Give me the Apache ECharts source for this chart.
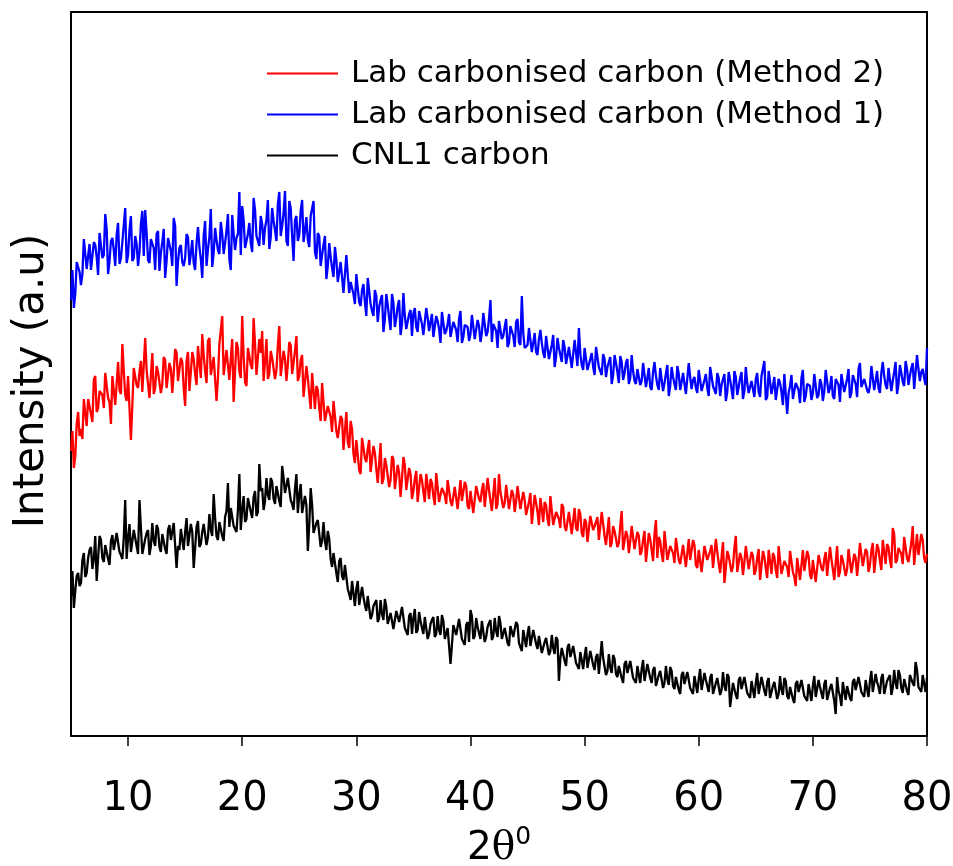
<!DOCTYPE html>
<html>
<head>
<meta charset="utf-8">
<script src="https://cdn.jsdelivr.net/npm/echarts@6/dist/echarts.min.js"></script>
<style>
html,body{margin:0;padding:0;background:#fff;}
#chart{width:953px;height:866px;}
</style>
</head>
<body>
<div id="chart"></div>
<script>
// 2θ sampling of the traces (degrees): main readings at 5, 5.25, ... ; in-between readings at 5.125, 5.375, ...
const angleStart = 5;
const angleStep = 0.25;
const xTicks = [10, 20, 30, 40, 50, 60, 70, 80];

const seriesNames = ['Lab carbonised carbon (Method 2)', 'Lab carbonised carbon (Method 1)', 'CNL1 carbon'];

// Intensity (a.u., offsets as plotted)
const method1 = [
436,428,474,464, 462,482,480,466, 494,479,503,478, 522,462,495,486, 501,472,494,528,
481,520,478,492, 484,525,526,476, 497,488,502,465, 494,458,498,485, 518,450,488,474,
478,499,482,473, 493,489,458,515, 487,527,483,496, 482,502,493,522, 466,502,498,544,
530,488,502,493, 538,500,490,512, 508,536,499,515, 495,544,510,545, 490,528,475,520,
501,536,505,496, 520,535,477,500, 481,500,470,479, 459,476,464,474, 442,461,454,442,
462,434,446,434, 458,432,420,440, 429,441,417,431, 406,433,418,436, 412,420,405,426,
423,409,425,412, 403,418,414,399, 420,407,424,402, 412,399,414,406, 417,393,411,409,
402,420,399,410, 403,424,404,436, 412,405,415,397, 409,389,410,400, 414,394,440,388,
391,407,393,384, 397,393,378,398, 384,401,379,388, 374,389,380,391, 366,383,408,371,
388,366,377,369, 389,369,361,377, 369,379,361,373, 353,374,363,377, 358,365,352,369,
355,371,358,349, 364,360,346,366, 353,371,350,359, 346,362,354,365, 341,359,356,348,
366,345,356,348, 369,350,342,358, 351,362,344,356, 337,359,349,364, 345,353,341,357,
357,344,360,375, 339,354,350,336, 357,344,362,322, 350,337,353,346, 358,334,352,350,
343,361,341,352, 345,366,348,340, 357,351,362,344, 357,338,361,352, 367,349,357,346,
350,368,355,348, 363,360,347,368, 355,374,352,363, 350,367,360,373, 348,367,364,358,
388
];
const method1Mid = [
466,442,474,451, 497,467,492,464, 491,461,502,481, 507,475,498,470, 513,478,494,473,
506,475,500,470, 512,480,503,473, 496,466,505,483, 507,475,498,470, 510,475,491,470,
502,471,496,466, 509,477,500,470, 499,469,508,486, 514,482,505,477, 521,486,502,481,
516,486,513,484, 526,495,520,491, 516,487,528,506, 532,500,523,495, 535,500,516,495,
525,494,519,489, 519,484,503,470, 491,457,493,468, 489,454,474,443, 481,443,456,432,
463,430,452,420, 459,425,446,414, 436,404,442,418, 442,409,430,401, 443,407,422,400,
428,404,423,401, 428,405,422,399, 415,393,422,405, 422,398,415,394, 425,399,411,395,
421,397,416,394, 423,400,417,394, 410,388,417,400, 417,393,410,389, 417,391,403,387,
408,384,403,381, 406,383,400,377, 391,369,398,381, 396,372,389,368, 396,370,382,366,
388,364,383,361, 388,365,382,359, 374,352,381,364, 380,356,373,352, 381,355,367,351,
373,349,368,346, 374,351,368,345, 362,340,369,352, 370,346,363,342, 373,347,359,343,
367,343,362,340, 369,346,363,340, 357,335,364,347, 365,341,358,337, 369,343,355,339,
363,339,358,336, 365,342,359,336, 353,331,360,343, 361,337,354,333, 366,340,352,336,
362,338,357,335, 366,343,360,337, 356,334,363,346, 367,343,360,339, 373,347,359,343,
370,346,365,343, 374,351,368,345, 364,342,371,354, 375,351,368,347, 381,355,367,351
];

const method2 = [
285,268,312,300, 297,323,337,322, 356,324,345,341, 363,338,312,360, 352,346,392,341,
360,296,368,351, 364,344,398,352, 360,342,370,365, 352,376,348,367, 363,383,356,374,
330,384,364,377, 351,374,402,365, 395,361,379,335, 392,420,361,386, 377,334,394,364,
420,354,388,371, 418,361,397,405, 375,357,385,380, 366,410,360,377, 372,391,362,400,
360,381,354,358, 327,345,350,328, 353,315,330,319, 335,305,296,317, 305,294,315,282,
296,266,298,278, 287,264,290,267, 272,252,278,271, 256,277,247,263, 257,271,246,262,
245,265,248,256, 234,250,257,240, 263,234,248,241, 256,235,229,249, 241,235,254,230,
245,223,250,237, 246,229,258,235, 242,227,262,244, 233,251,227,241, 235,249,226,236,
223,243,226,233, 211,227,234,217, 240,211,224,217, 232,210,204,223, 215,208,227,203,
217,194,220,206, 214,196,224,200, 205,189,210,205, 193,225,186,200, 195,209,187,200,
185,205,188,197, 175,216,199,182, 205,176,190,183, 198,176,171,190, 183,176,196,171,
186,164,190,176, 185,168,197,173, 179,153,185,181, 170,200,164,178, 174,189,166,180,
166,187,170,179, 158,175,183,166, 190,162,175,169, 185,164,150,178, 171,165,185,161,
176,154,181,168, 177,160,189,167, 173,159,181,178, 167,186,163,178, 175,191,170,184,
171,193,177,187, 166,184,192,176, 208,173,188,182, 199,178,173,210, 187,181,202,178,
182
];
const method2Mid = [
305,280,324,307, 337,310,337,314, 360,328,346,328, 364,334,360,331, 374,342,365,335,
361,331,370,348, 375,343,366,338, 383,348,364,343, 379,348,373,343, 387,355,378,348,
375,345,384,362, 390,358,381,353, 398,363,379,358, 392,361,386,356, 397,365,388,358,
380,350,389,367, 392,360,383,355, 397,362,378,357, 391,360,385,355, 394,362,385,355,
376,339,370,342, 363,327,346,315, 353,315,328,304, 333,298,320,286, 324,288,307,273,
295,262,298,274, 296,262,283,253, 293,257,271,249, 280,247,271,239, 279,246,268,237,
257,234,262,244, 262,237,253,231, 262,236,248,232, 254,230,249,227, 256,233,250,227,
244,222,251,234, 253,229,246,225, 258,232,244,228, 251,227,246,224, 250,227,244,221,
234,212,241,224, 238,214,231,210, 238,212,224,208, 229,205,224,202, 228,205,222,199,
214,192,221,204, 219,195,212,191, 219,193,205,189, 210,186,205,183, 210,187,204,181,
196,174,203,186, 202,178,195,174, 203,177,189,173, 196,172,191,169, 197,174,191,168,
184,162,191,174, 191,167,184,163, 194,168,180,164, 188,164,183,161, 190,167,184,161,
178,156,185,168, 186,162,179,158, 189,163,175,159, 183,159,178,156, 186,163,180,157,
175,153,182,165, 184,160,177,156, 190,164,176,160, 187,163,182,160, 193,170,187,164,
185,163,192,175, 196,172,189,168, 202,176,188,172, 198,174,193,171, 202,179,196,173
];

const cnl1 = [
140,128,160,150, 176,159,178,189, 177,155,200,178, 191,177,195,186, 203,184,177,236,
198,184,206,190, 236,182,197,206, 190,195,211,189, 202,187,206,196, 213,168,186,208,
204,190,212,168, 209,189,204,214, 199,206,242,200, 214,200,219,253, 228,210,204,262,
226,214,238,224, 239,220,272,248, 235,241,258,237, 250,235,270,243, 258,236,226,262,
241,223,240,185, 248,203,213,216, 195,195,205,177, 183,163,175,160, 171,147,136,155,
147,131,149,131, 140,117,130,136, 118,122,137,112, 123,107,125,114, 129,108,101,123,
118,103,124,108, 119,97,112,119, 102,106,121,97, 108,72,111,101, 117,97,91,114,
126,97,118,103, 115,94,109,116, 100,105,120,97, 108,93,110,99, 114,93,85,108,
102,90,106,92, 100,83,94,99, 85,88,99,55, 88,75,88,79, 90,73,67,84,
80,68,85,71, 79,62,95,79, 65,68,81,62, 70,58,72,63, 75,58,53,70,
67,55,72,58, 66,50,61,67, 53,57,69,50, 59,46,61,52, 64,48,42,60,
57,46,63,50, 58,42,53,59, 46,50,62,29, 53,41,56,47, 59,43,38,56,
53,42,59,45, 54,38,50,55, 42,46,58,40, 49,37,52,44, 56,40,35,53,
50,39,56,43, 52,36,48,54, 22,45,30,52, 50,38,54,46, 59,44,39,58,
55,44,62,49, 58,42,55,61, 48,53,66,48, 57,45,61,53, 74,49,44,63,
58
];
const cnl1Mid = [
165,145,163,153, 183,163,186,167, 200,178,196,174, 193,171,201,185, 205,181,198,177,
212,186,198,182, 208,184,203,181, 213,190,207,184, 204,182,211,194, 214,190,207,186,
218,192,204,188, 215,192,212,191, 222,200,218,196, 216,195,225,209, 230,208,226,206,
240,217,231,218, 245,224,245,226, 258,236,254,232, 251,229,258,241, 258,232,247,223,
252,222,231,211, 231,202,216,189, 214,186,197,169, 181,154,178,156, 170,142,155,130,
155,133,139,125, 141,121,133,114, 136,116,129,110, 123,105,126,112, 127,107,120,102,
127,106,115,102, 120,102,116,99, 120,101,115,97, 108,91,113,100, 116,97,111,94,
120,100,109,97, 117,99,113,96, 118,99,113,95, 107,90,112,99, 111,92,106,89,
110,90,99,87, 102,84,98,81, 101,82,96,78, 87,70,92,79, 89,70,84,67,
89,69,78,66, 82,64,78,61, 82,63,77,59, 70,53,75,62, 75,56,70,53,
76,56,65,53, 69,51,65,48, 70,51,65,47, 59,42,64,51, 65,46,60,43,
67,47,56,44, 62,44,58,41, 64,45,59,41, 54,37,59,46, 60,41,55,38,
63,43,52,40, 58,40,54,37, 60,41,55,37, 50,33,55,42, 57,38,52,35,
60,40,49,37, 56,38,52,35, 59,40,54,36, 52,35,57,44, 61,42,56,39,
65,45,54,42, 62,44,58,41, 66,47,61,43, 58,41,63,50, 66,47,61,44
];

// interleave the two sets of readings in 2θ order
function toPairs(main, mid) {
  const out = [];
  for (let i = 0; i < main.length; i++) {
    out.push([angleStart + i * angleStep, main[i]]);
    if (i < mid.length) out.push([angleStart + (i + 0.5) * angleStep, mid[i]]);
  }
  return out;
}

const chart = echarts.init(document.getElementById('chart'), null, {renderer: 'canvas'});
const FONT = 'DejaVu Sans';

const option = {
  backgroundColor: '#ffffff',
  animation: false,
  grid: {
    left: 71, right: 26, top: 12, bottom: 130,
    outerBoundsMode: 'none', containLabel: false,
    show: true, borderColor: '#000', borderWidth: 2, backgroundColor: 'transparent'
  },
  legend: {
    orient: 'vertical',
    left: 262, top: 53,
    itemWidth: 71, itemHeight: 2, itemGap: 10,
    icon: 'rect',
    data: seriesNames,
    textStyle: {fontFamily: FONT, fontSize: 31, color: '#000', lineHeight: 30, padding: [0, 0, 0, 8]}
  },
  xAxis: {
    type: 'value', min: 5, max: 80,
    name: '{a|2}{b|θ}{c|0}',
    nameLocation: 'middle', nameGap: 87,
    nameTextStyle: {
      rich: {
        a: {fontFamily: FONT, fontSize: 39, color: '#000'},
        b: {fontFamily: 'DejaVu Serif', fontSize: 39, color: '#000'},
        c: {fontFamily: FONT, fontSize: 25, color: '#000', padding: [0, 0, 22, 0]}
      }
    },
    axisLine: {show: true, lineStyle: {color: '#000', width: 2}},
    axisTick: {show: true, inside: false, length: 10, customValues: xTicks, lineStyle: {color: '#000', width: 1.5}},
    axisLabel: {show: true, customValues: xTicks, margin: 44, fontFamily: FONT, fontSize: 40, color: '#000'},
    splitLine: {show: false}
  },
  yAxis: {
    type: 'value', min: 0, max: 724,
    name: 'Intensity (a.u)',
    nameLocation: 'middle', nameGap: 18,
    nameTextStyle: {fontFamily: FONT, fontSize: 42, color: '#000', padding: [0, 14, 0, 0]},
    axisLine: {show: true, lineStyle: {color: '#000', width: 2}},
    axisTick: {show: false},
    axisLabel: {show: false},
    splitLine: {show: false}
  },
  series: [
    {name: seriesNames[0], type: 'line', data: toPairs(method2, method2Mid), showSymbol: false, symbol: 'none',
     lineStyle: {color: '#ff0000', width: 2.3}, itemStyle: {color: '#ff0000'}},
    {name: seriesNames[1], type: 'line', data: toPairs(method1, method1Mid), showSymbol: false, symbol: 'none',
     lineStyle: {color: '#0000ff', width: 2.3}, itemStyle: {color: '#0000ff'}},
    {name: seriesNames[2], type: 'line', data: toPairs(cnl1, cnl1Mid), showSymbol: false, symbol: 'none',
     lineStyle: {color: '#000000', width: 2.3}, itemStyle: {color: '#000000'}}
  ]
};
chart.setOption(option);
</script>
</body>
</html>
